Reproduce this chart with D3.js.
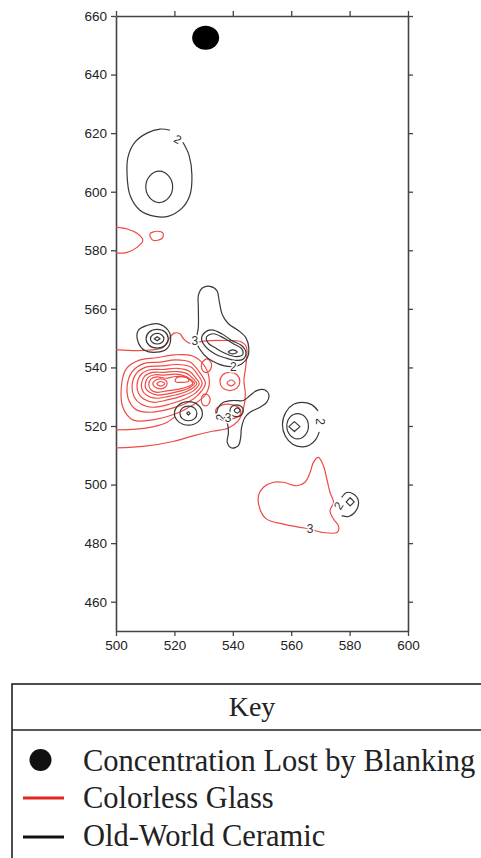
<!DOCTYPE html>
<html>
<head>
<meta charset="utf-8">
<script src="https://cdn.jsdelivr.net/npm/d3@7"></script>
<style>
  html, body { margin: 0; padding: 0; background: #fff; }
  svg { display: block; }
</style>
</head>
<body>
<svg id="chart" width="481" height="858"></svg>
<script>
// axis ticks
const xTicks = [500, 520, 540, 560, 580, 600];
const yTicks = [460, 480, 500, 520, 540, 560, 580, 600, 620, 640, 660];

// concentration lost by blanking
const blankedSpots = [[530.7, 652.6]];

// Old-World Ceramic contours (closed loops)
const ceramicClosed = [
  [[514.8,607.0],[518.0,605.4],[519.4,601.6],[518.0,597.9],[514.8,596.3],[511.6,597.9],[510.2,601.6],[511.6,605.4]],
  [[507.6,552.6],[510.5,554.3],[514.5,554.9],[517.9,552.6],[518.7,549.2],[517.3,546.3],[513.9,545.2],[509.9,545.8],[507.6,548.6]],
  [[514.1,553.0],[516.8,552.1],[517.9,549.8],[516.8,547.5],[514.1,546.6],[511.4,547.5],[510.3,549.8],[511.4,552.1]],
  [[514.1,551.6],[515.7,551.1],[516.4,549.8],[515.7,548.5],[514.1,548.0],[512.5,548.5],[511.8,549.8],[512.5,551.1]],
  [[524.8,528.3],[528.2,527.1],[529.6,524.3],[528.2,521.5],[524.8,520.3],[521.4,521.5],[520.0,524.3],[521.4,527.1]],
  [[524.8,526.8],[526.9,526.1],[527.7,524.3],[526.9,522.5],[524.8,521.8],[522.7,522.5],[521.9,524.3],[522.7,526.1]],
  [[527.6,548.6],[528.2,553.8],[528.2,560.6],[528.2,564.6],[529.7,567.2],[532.2,567.7],[534.5,566.3],[535.4,562.3],[536.5,557.8],[538.5,554.9],[541.9,552.6],[544.5,550.1],[545.5,546.4],[545.0,543.3],[543.0,541.2],[540.2,540.3],[536.8,540.6],[533.3,542.0],[530.1,544.4]],
  [[529.3,549.8],[530.5,552.0],[532.8,552.8],[536.2,551.5],[539.6,549.2],[543.0,547.5],[544.5,545.2],[543.6,542.9],[540.8,542.4],[537.3,543.3],[533.9,544.6],[530.8,546.9]],
  [[531.0,550.4],[533.3,551.5],[536.8,550.1],[540.2,548.1],[543.0,546.4],[543.4,544.4],[541.3,543.7],[537.9,544.6],[534.5,546.4],[531.6,548.3]],
  [[538.5,545.3],[540.0,546.0],[541.5,545.3],[540.0,544.6]],
  [[535.1,526.4],[536.8,528.1],[540.2,528.7],[543.6,528.7],[545.9,530.4],[548.2,532.1],[551.0,532.3],[552.4,530.4],[551.6,528.1],[549.3,526.4],[545.9,524.7],[544.2,523.0],[543.0,519.5],[542.7,516.1],[541.9,513.3],[539.6,512.5],[538.1,514.4],[538.5,517.8],[537.9,521.3],[535.6,522.4],[534.5,524.1]],
  [[541.3,527.2],[543.0,526.6],[543.6,525.2],[543.0,523.8],[541.3,523.2],[539.6,523.8],[539.0,525.2],[539.6,526.6]],
  [[541.5,526.2],[542.5,525.3],[541.5,524.4],[540.5,525.3]],
  [[562.2,524.2],[564.8,523.0],[565.9,519.9],[564.8,516.9],[562.2,515.6],[559.6,516.9],[558.5,519.9],[559.6,523.0]]
];

// Old-World Ceramic diamond-shaped peaks
const ceramicDiamonds = [
  [[514.1,550.5],[515.1,549.8],[514.1,549.1],[513.1,549.8]],
  [[524.8,524.9],[525.4,524.3],[524.8,523.7],[524.2,524.3]],
  [[561.1,521.5],[563.0,519.8],[561.1,518.1],[559.2,519.8]],
  [[580.2,495.5],[581.6,494.1],[580.2,492.7],[578.8,494.1]]
];

// Old-World Ceramic contours broken by a label
const ceramicOpen = [
  [[522.9,616.9],[525.0,612.5],[526.0,605.6],[525.3,598.8],[522.6,594.4],[517.8,591.6],[513.4,591.6],[508.2,593.7],[504.8,598.8],[503.8,605.6],[504.1,611.8],[506.5,616.9],[510.6,620.0],[515.1,621.4],[518.5,621.0]],
  [[569.6,518.0],[568.5,515.5],[566.2,513.4],[563.7,512.9],[560.5,513.8],[558.0,516.5],[557.0,520.5],[558.2,524.8],[560.8,527.4],[563.7,528.1],[567.0,527.3],[569.2,525.2]],
  [[577.3,495.6],[579.0,497.3],[581.3,496.8],[583.0,494.5],[582.2,491.1],[579.6,489.1],[577.3,489.4]]
];

// Colorless Glass contours (closed loops)
const glassClosed = [
  [[501.8,533.0],[503.5,539.5],[508.0,542.5],[514.0,543.3],[520.0,544.3],[526.0,544.0],[530.0,541.0],[532.0,535.0],[530.5,530.5],[526.0,527.0],[520.0,524.0],[513.0,522.2],[506.0,522.0],[502.5,526.0]],
  [[503.8,533.5],[505.5,538.5],[509.5,541.3],[515.0,541.8],[520.5,542.6],[525.5,541.8],[528.5,538.5],[530.6,534.5],[528.5,531.0],[524.5,528.0],[519.0,526.0],[512.0,524.7],[507.0,525.5],[504.5,528.5]],
  [[505.5,533.8],[507.0,538.0],[510.5,540.2],[515.5,540.5],[521.0,541.0],[525.5,540.2],[528.0,537.5],[529.5,534.5],[527.5,531.5],[523.5,529.2],[518.5,527.5],[512.5,526.4],[508.5,527.5],[506.2,530.0]],
  [[507.2,534.0],[508.5,537.5],[511.5,539.2],[516.0,539.3],[521.0,539.7],[525.0,538.8],[527.2,536.5],[528.5,534.5],[526.5,532.0],[522.5,530.2],[518.0,529.0],[513.0,528.1],[509.5,529.2],[507.7,531.2]],
  [[508.7,534.2],[509.8,537.0],[512.5,538.3],[516.5,538.3],[521.0,538.6],[524.5,537.8],[526.5,536.0],[527.7,534.5],[525.8,532.6],[522.0,531.0],[518.0,530.1],[513.5,529.5],[510.5,530.5],[509.0,532.2]],
  [[510.0,534.3],[511.0,536.6],[513.2,537.5],[516.5,537.4],[520.5,537.7],[523.8,537.0],[525.8,535.7],[526.9,534.5],[525.0,533.0],[521.5,531.8],[517.8,531.0],[514.0,530.6],[511.5,531.5],[510.2,532.8]],
  [[511.2,534.3],[512.0,536.1],[514.0,536.8],[517.0,536.3],[520.5,536.9],[524.0,536.6],[525.5,535.6],[526.3,534.5],[524.5,533.4],[521.0,532.5],[517.5,532.0],[514.2,531.5],[512.0,532.3]],
  [[512.6,534.4],[513.5,535.6],[515.2,536.1],[517.0,535.6],[517.5,534.4],[516.8,533.2],[515.2,532.7],[513.5,533.2]],
  [[514.0,534.4],[515.3,535.2],[516.7,534.5],[515.3,533.6]],
  [[520.3,535.2],[520.8,536.5],[524.3,536.6],[524.9,535.4],[522.6,534.9]],
  [[531.0,542.9],[532.5,541.8],[532.7,540.3],[531.8,538.6],[530.6,538.3],[529.4,539.4],[529.4,541.4]],
  [[539.0,538.3],[541.5,537.4],[542.4,535.2],[541.5,533.0],[539.0,532.1],[536.5,533.0],[535.6,535.2],[536.5,537.4]],
  [[539.4,535.7],[540.8,534.7],[539.4,533.7],[538.0,534.7]],
  [[530.7,531.0],[532.0,530.0],[532.2,528.6],[531.2,527.0],[529.8,527.2],[529.2,528.8],[529.6,530.4]],
  [[534.2,525.6],[536.5,527.2],[539.5,527.3],[542.3,526.0],[542.5,523.8],[540.0,522.5],[536.5,522.6],[534.5,523.6]],
  [[511.6,585.5],[514.0,586.5],[516.1,585.8],[515.8,584.1],[512.7,583.4]],
  [[569.3,509.3],[571.0,506.5],[572.2,501.9],[573.3,497.3],[574.5,493.9],[573.3,491.1],[574.5,488.2],[576.2,485.9],[575.8,483.7],[570.5,483.7],[566.5,484.8],[563.0,485.4],[557.3,486.5],[551.6,488.2],[549.3,491.6],[548.8,496.2],[550.5,499.1],[553.9,500.8],[557.3,500.8],[561.9,499.6],[564.7,500.8],[566.5,504.2],[567.6,507.6]]
];

// Colorless Glass contours that run into the plot edge
const glassOpen = [
  [[500,546.1],[509.3,545.8],[516.2,546.9],[518.5,550.3],[519.9,551.7],[521.9,551.5],[523.1,549.8],[525.1,548.3],[529.9,549.0],[536.8,549.2],[543.0,548.7],[544.7,546.9],[544.4,540.1],[543.8,535.5],[544.3,530.9],[543.6,525.8],[541.9,521.8],[538.5,519.3],[533.0,518.2],[527.0,516.8],[519.5,514.7],[510.0,513.1],[500,512.5]],
  [[500,518.7],[507.0,518.9],[513.0,519.8],[517.5,521.3],[520.2,523.2]],
  [[500,587.9],[504.1,587.2],[507.2,585.8],[509.2,583.4],[507.2,581.0],[503.8,579.3],[500,579.0]]
];

// contour level labels
const levelLabels = [
  { t: "2", x: 521.2, y: 617.9 },
  { t: "3", x: 527.0, y: 549.2 },
  { t: "2", x: 540.2, y: 540.3 },
  { t: "2", x: 536.0, y: 523.0 },
  { t: "3", x: 538.4, y: 523.0 },
  { t: "2", x: 569.9, y: 521.5 },
  { t: "2", x: 576.2, y: 492.8 },
  { t: "3", x: 566.5, y: 484.8 }
];
const labelAngles = [30, 0, 0, -90, 0, 90, -60, 0];

// legend entries
const legendItems = ["Concentration Lost by Blanking", "Colorless Glass", "Old-World Ceramic"];

const RED = "#ee4a46", DARK = "#383838";

const svg = d3.select("#chart");
const x = d3.scaleLinear().domain([500, 600]).range([116, 408]);
const y = d3.scaleLinear().domain([450, 660]).range([631, 16]);

// frame + axes
const axisFont = "'Liberation Sans', Arial, sans-serif";
function styleAxis(g) {
  g.select(".domain").attr("stroke", "#444").attr("stroke-width", 1.6);
  g.selectAll(".tick line").attr("stroke", "#444").attr("stroke-width", 1.3);
  g.selectAll(".tick text").attr("fill", "#222").style("font-family", axisFont).style("font-size", "13.5px");
}
svg.append("g").attr("transform", "translate(116,0)")
  .call(d3.axisLeft(y).tickValues(yTicks).tickSize(5).tickSizeOuter(0).tickPadding(4))
  .call(styleAxis);
svg.append("g").attr("transform", "translate(408,0)")
  .call(d3.axisRight(y).tickValues(yTicks).tickSize(5).tickSizeOuter(0).tickFormat(""))
  .call(styleAxis);
svg.append("g").attr("transform", "translate(0,631)")
  .call(d3.axisBottom(x).tickValues(xTicks).tickSize(5).tickSizeOuter(0).tickPadding(4))
  .call(styleAxis);
svg.append("g").attr("transform", "translate(0,16)")
  .call(d3.axisTop(x).tickValues(xTicks).tickSize(5).tickSizeOuter(0).tickFormat(""))
  .call(styleAxis);

const plot = svg.append("g");
const closedLine = d3.line().x(d => x(d[0])).y(d => y(d[1])).curve(d3.curveCatmullRomClosed);
const openLine = d3.line().x(d => x(d[0])).y(d => y(d[1])).curve(d3.curveCatmullRom);
const polyLine = d3.line().x(d => x(d[0])).y(d => y(d[1])).curve(d3.curveLinearClosed);

function drawSet(data, gen, color) {
  plot.append("g").selectAll("path")
    .data(data)
    .enter()
    .append("path")
    .attr("d", gen)
    .attr("fill", "none")
    .attr("stroke", color)
    .attr("stroke-width", 1.2)
    .attr("stroke-linejoin", "round");
}

drawSet(glassClosed, closedLine, RED);
drawSet(glassOpen, openLine, RED);
drawSet(ceramicClosed, closedLine, DARK);
drawSet(ceramicDiamonds, polyLine, DARK);
drawSet(ceramicOpen, openLine, DARK);

plot.append("g").selectAll("text")
  .data(levelLabels)
  .enter()
  .append("text")
  .attr("transform", (d, i) => `translate(${x(d.x)},${y(d.y)}) rotate(${labelAngles[i]})`)
  .attr("text-anchor", "middle")
  .attr("dy", "0.36em")
  .attr("fill", "#333")
  .attr("stroke", "#fff")
  .attr("stroke-width", 3)
  .attr("paint-order", "stroke")
  .style("font-family", axisFont)
  .style("font-size", "12px")
  .text(d => d.t);

plot.selectAll("ellipse.blank")
  .data(blankedSpots)
  .enter()
  .append("ellipse")
  .attr("class", "blank")
  .attr("cx", d => x(d[0]))
  .attr("cy", d => y(d[1]))
  .attr("rx", 13.5)
  .attr("ry", 12)
  .attr("fill", "#000");

// legend box
const serif = "'Liberation Serif', 'Times New Roman', serif";
const key = svg.append("g");
key.append("rect")
  .attr("x", 12).attr("y", 684).attr("width", 500).attr("height", 200)
  .attr("fill", "none").attr("stroke", "#222").attr("stroke-width", 1.6);
key.append("line")
  .attr("x1", 12).attr("x2", 481).attr("y1", 730).attr("y2", 730)
  .attr("stroke", "#222").attr("stroke-width", 1.6);
key.append("text")
  .attr("x", 252).attr("y", 716)
  .attr("text-anchor", "middle")
  .style("font-family", serif).style("font-size", "28px").attr("fill", "#222")
  .text("Key");

const rowY = [771, 808, 846];
key.append("circle").attr("cx", 40.5).attr("cy", 760).attr("r", 11).attr("fill", "#111");
key.append("line").attr("x1", 23).attr("x2", 64).attr("y1", 798).attr("y2", 798)
  .attr("stroke", "#e0281e").attr("stroke-width", 3);
key.append("line").attr("x1", 23).attr("x2", 64).attr("y1", 837).attr("y2", 837)
  .attr("stroke", "#111").attr("stroke-width", 3);
key.selectAll("text.item")
  .data(legendItems)
  .enter()
  .append("text")
  .attr("class", "item")
  .attr("x", 83)
  .attr("y", (d, i) => rowY[i])
  .style("font-family", serif).style("font-size", "30.5px").attr("fill", "#222")
  .text(d => d);
</script>
</body>
</html>
